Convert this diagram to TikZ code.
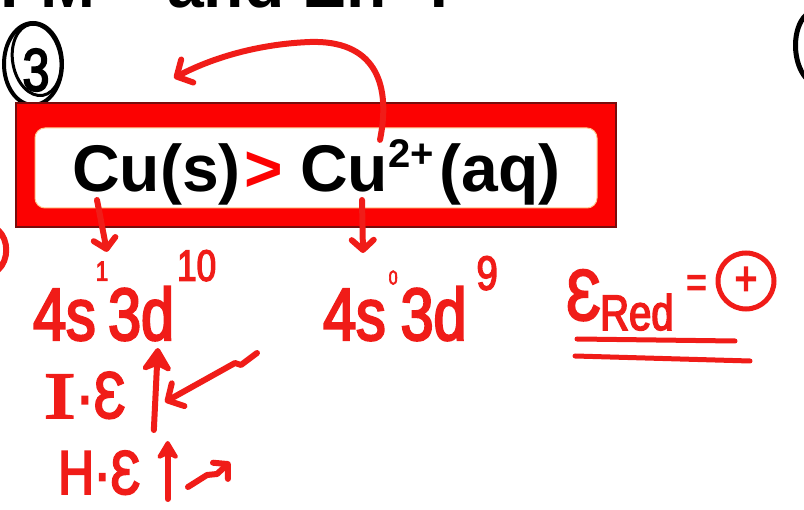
\documentclass[tikz,border=0pt]{standalone}
\usepackage{fontspec}
\setmainfont{Liberation Sans}
\newfontfamily\handfont[FakeStretch=0.8,FakeBold=3]{Liberation Sans}
\newfontfamily\handserif[FakeStretch=1.5,FakeBold=3]{Liberation Serif}
\usetikzlibrary{arrows.meta,positioning}
\definecolor{inkred}{RGB}{240,28,24}
\definecolor{boxred}{RGB}{252,2,2}
\definecolor{boxedge}{RGB}{120,12,12}
\newcommand{\setfs}[1]{\fontsize{#1}{#1}\selectfont}
\newcommand{\raisedsup}[3][0.8em]{\raisebox{#1}{\setfs{#2}#3}}
\begin{document}
\begin{tikzpicture}[x=1pt,y=-1pt,
  ink/.style={draw=inkred, line width=6pt, line cap=round, line join=round},
  hand/.style={text=inkred, font=\handfont\setfs{74}, inner sep=0pt, anchor=base west},
  formula/.style={font=\bfseries\setfs{66}, inner sep=0pt, anchor=base west},
  barb/.style={-{Straight Barb[length=12pt,width=26pt,round]}},
  smallbarb/.style={-{Straight Barb[length=10pt,width=22pt,round]}},
  risearrow/.style={-{Stealth[length=28pt,width=36pt,inset=8pt,round]}},
  smallrise/.style={-{Stealth[length=22pt,width=26pt,inset=6pt,round]}}]
\useasboundingbox (0,0) rectangle (804,510);
\clip (0,0) rectangle (804,510);
% Heading, only its lower edge shows
\node[formula] (headfm) at (0,8) {FM};
\node[formula] (headen) at (167,8) {and En};
\node[formula] (headq) at (420,8) {?};
% Circled number
\draw[line width=4pt] (33,64) ellipse [x radius=29, y radius=41];
\draw[line width=3pt, rotate around={10:(36,62)}] (37,60) ellipse [x radius=24, y radius=36];
\node[font=\handfont\setfs{60}, inner sep=0pt] (qnum) at (36,70) {3};
% Marks cut by the edges
\draw[line width=5pt] (806,15) .. controls (792,28) and (792,62) .. (806,78);
\draw[ink] (-2,230) .. controls (9,240) and (9,260) .. (-2,270);
% Framed relation
\node[fill=boxred, draw=boxedge, line width=2pt, minimum width=600pt, minimum height=124pt, inner sep=0pt] (frame) at (316,165) {};
\node[fill=white, draw=orange!45, line width=1pt, rounded corners=10pt, minimum width=562pt, minimum height=80pt, inner sep=0pt] (panel) at (316,168) {};
\node[formula] (cus) at (72,192) {Cu(s)};
\node[formula, text=boxred] (gt) at (244,192) {>};
\node[formula] (cuaq) at (300,192) {Cu\raisebox{24pt}{\setfs{40}2+}\hspace{6pt}(aq)};
% Electron going back
\coordinate (lefttip) at (174,78);
\draw[ink, barb] ([shift={(80,0)}]cuaq.north west) .. controls (392,80) and (372,40) .. (310,42) .. controls (258,44) and (212,58) .. (lefttip);
% Configurations
\node[hand] (cfgcu) at (33,340) {4s\raisedsup{28}{1}3d\hspace{3pt}\raisedsup{44}{10}};
\node[hand] (cfgion) at (323,340) {4s\hspace{3pt}\raisedsup[0.75em]{20}{0}\hspace{3pt}3d\hspace{10pt}\raisedsup[0.68em]{48}{9}};
\draw[ink, smallbarb] ([shift={(25,8)}]cus.base west) -- ([shift={(74,2)}]cfgcu.north west);
\draw[ink, smallbarb] ([shift={(62,8)}]cuaq.base west) -- ([shift={(40,-3)}]cfgion.north west);
% Reduction potential
\node[hand, font=\handfont\setfs{72}] (ered) at (566,320) {Ɛ};
\node[hand, font=\handfont\setfs{50}] (redsub) at (600,330) {Red};
\node[hand, font=\handfont\setfs{44}] (eqsign) at (686,297) {=};
\node[draw=inkred, text=inkred, circle, line width=5pt, minimum size=56pt, inner sep=0pt, font=\handfont\setfs{48}] (sign) at (746,281) {+};
\draw[ink, line width=5pt] (577,339) -- (735,341);
\draw[ink, line width=5pt] (575,356) -- (750,361);
% Energy trends
\node[hand, font=\handfont\setfs{66}] (ietext) at (43,418) {{\handserif I}·Ɛ};
\draw[ink, risearrow] ([shift={(28,12)}]ietext.base east) -- ++(4,-82);
\coordinate (ietail) at (257,353);
\coordinate (ieshaft) at (165,402);
\draw[ink, barb] (ietail) -- (241,365) -- (235,363) -- (ieshaft);
\node[hand, font=\handfont\setfs{62}] (hetext) at (58,494) {H·Ɛ};
\draw[ink, smallrise] ([shift={(27,5)}]hetext.base east) -- ++(0,-58);
\coordinate (hetail) at (188,487);
\coordinate (hetip) at (230,462);
\draw[ink, smallbarb] (hetail) -- (207,475) -- (217,474) -- (hetip);
\end{tikzpicture}
\end{document}
